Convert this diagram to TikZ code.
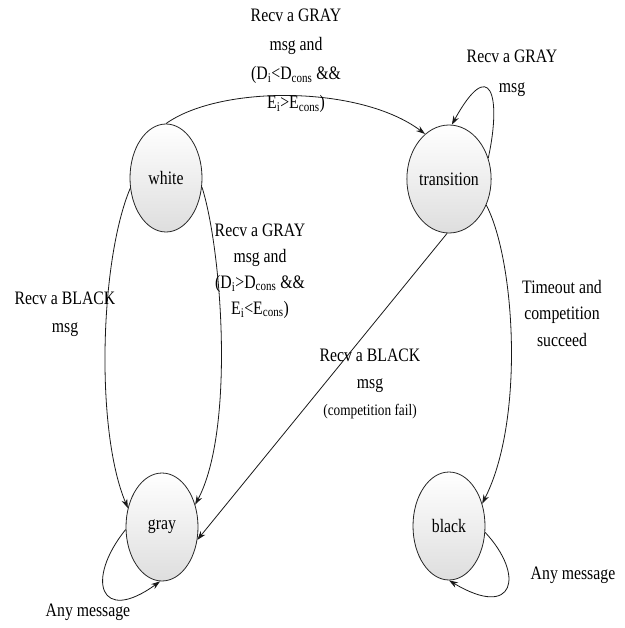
\documentclass[tikz,border=0pt]{standalone}
\usepackage{fontspec}
\setmainfont{Liberation Serif}[FakeStretch=0.83]
\usetikzlibrary{shapes.geometric,arrows.meta}
\begin{document}
\begin{tikzpicture}[x=1pt,y=-1pt,
 state/.style={ellipse,draw=black!85,line width=0.8pt,minimum width=72pt,minimum height=108pt,inner sep=0pt,top color=white,bottom color=black!13,font=\fontsize{19}{23}\selectfont},
 trans/.style={draw=black!90,line width=0.8pt,-{Stealth[length=9pt,width=6pt]}},
 lbl/.style={align=center,inner sep=0pt,font=\fontsize{19}{27}\selectfont}]
\useasboundingbox (0,0) rectangle (624,628);
\node[state] (w) at (166,178) {white};
\node[state] (t) at (449,179) {transition};
\node[state] (g) at (162,527) {gray};
\node[state] (b) at (449,526) {black};

\draw[trans] (w.90) .. controls (220,85) and (360,85) .. (t.118);
\draw[trans] (t.28) .. controls (502,95) and (490,55) .. (t.87);
\draw[trans] (w.196) .. controls (100,260) and (95,430) .. (g.151);
\draw[trans] (w.346) .. controls (222,250) and (235,430) .. (g.34);
\draw[trans] (t.268) -- (g.-20);
\draw[trans] (t.325) .. controls (515,260) and (525,420) .. (b.34);
\draw[trans] (g.184) .. controls (85,580) and (100,625) .. (g.268);
\draw[trans] (b.-10) .. controls (525,575) and (515,620) .. (b.270);

\node[lbl,font=\fontsize{19}{29}\selectfont] (l1) at (296,61) {Recv a GRAY\\msg and\\(D\textsubscript{i}<D\textsubscript{cons} \&\&\\E\textsubscript{i}>E\textsubscript{cons})};
\node[lbl,font=\fontsize{19}{30}\selectfont] (l2) at (512,73) {Recv a GRAY\\msg};
\node[lbl,font=\fontsize{19}{28}\selectfont] (l3) at (65,314) {Recv a BLACK\\msg};
\node[lbl,font=\fontsize{19}{26}\selectfont] (l4) at (260,271) {Recv a GRAY\\msg and\\(D\textsubscript{i}>D\textsubscript{cons} \&\&\\E\textsubscript{i}<E\textsubscript{cons})};
\node[lbl] (l5) at (370,384) {Recv a BLACK\\msg\\{\fontsize{16}{27}\selectfont (competition fail)}};
\node[lbl,font=\fontsize{19}{26.5}\selectfont] (l6) at (562,313) {Timeout and\\competition\\succeed};
\node[lbl] (l7) at (88,612) {Any message};
\node[lbl] (l8) at (573,575) {Any message};
\end{tikzpicture}
\end{document}
